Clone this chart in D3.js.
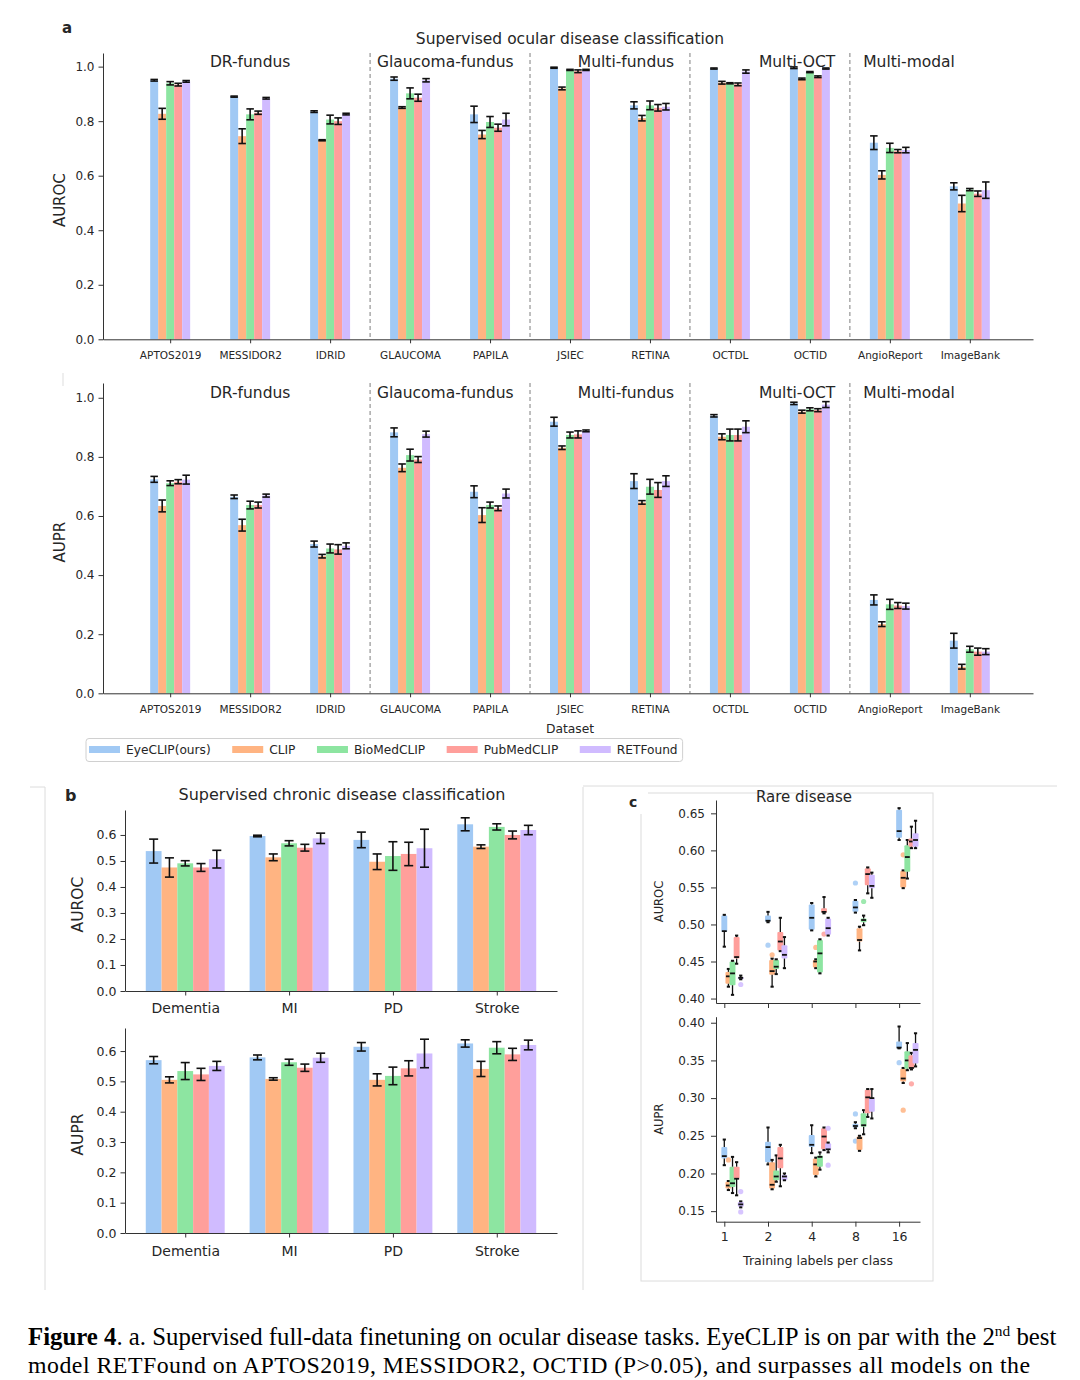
<!DOCTYPE html>
<html><head><meta charset="utf-8">
<script src="https://cdn.jsdelivr.net/npm/d3@7"></script>
<style>
body{margin:0;background:#fff}
svg{display:block}
text{font-family:"DejaVu Sans",sans-serif;fill:#262626}
.cap text, text.cap{font-family:"Liberation Serif","Times New Roman",serif;fill:#000}
</style>
</head><body>
<svg id="chart" width="1080" height="1380"></svg>
<script>
// ---------------- data ----------------
const models = ["EyeCLIP(ours)","CLIP","BioMedCLIP","PubMedCLIP","RETFound"];
const palette = ["#a1c9f4","#ffb482","#8de5a1","#ff9f9b","#d0bbff"];

const datasets = ["APTOS2019","MESSIDOR2","IDRID","GLAUCOMA","PAPILA","JSIEC","RETINA","OCTDL","OCTID","AngioReport","ImageBank"];
const groupNames = ["DR-fundus","Glaucoma-fundus","Multi-fundus","Multi-OCT","Multi-modal"];
const groupFirstIndex = [0,3,5,7,9];
const groupLabelAt = [1.0,3.44,5.7,7.84,9.24];
const ocularTicks = [0,0.2,0.4,0.6,0.8,1.0];

const ocularAuroc = [
  [0.950,0.827,0.939,0.934,0.946],
  [0.890,0.745,0.825,0.831,0.884],
  [0.835,0.730,0.806,0.800,0.826],
  [0.956,0.850,0.902,0.886,0.950],
  [0.825,0.751,0.797,0.776,0.806],
  [0.996,0.920,0.988,0.983,0.988],
  [0.858,0.811,0.858,0.849,0.853],
  [0.993,0.941,0.939,0.935,0.982],
  [0.996,0.955,0.980,0.963,0.993],
  [0.721,0.603,0.702,0.690,0.694],
  [0.561,0.498,0.549,0.534,0.547]
];
const ocularAurocErr = [
  [0.003,0.020,0.006,0.005,0.003],
  [0.002,0.027,0.020,0.006,0.003],
  [0.003,0.002,0.016,0.012,0.003],
  [0.006,0.003,0.020,0.013,0.006],
  [0.030,0.015,0.020,0.013,0.023],
  [0.002,0.005,0.002,0.005,0.002],
  [0.013,0.010,0.016,0.012,0.012],
  [0.002,0.005,0.002,0.005,0.006],
  [0.003,0.003,0.002,0.003,0.002],
  [0.025,0.015,0.017,0.006,0.010],
  [0.013,0.030,0.004,0.010,0.030]
];
const ocularAupr = [
  [0.724,0.634,0.711,0.716,0.723],
  [0.665,0.569,0.637,0.637,0.669],
  [0.505,0.464,0.490,0.487,0.499],
  [0.883,0.763,0.806,0.791,0.877],
  [0.682,0.603,0.637,0.626,0.676],
  [0.919,0.831,0.874,0.876,0.888],
  [0.718,0.646,0.699,0.688,0.718],
  [0.939,0.868,0.874,0.874,0.902],
  [0.981,0.953,0.961,0.958,0.977],
  [0.316,0.234,0.301,0.297,0.295],
  [0.178,0.090,0.149,0.141,0.141]
];
const ocularAuprErr = [
  [0.010,0.020,0.008,0.007,0.015],
  [0.006,0.020,0.013,0.010,0.005],
  [0.010,0.006,0.015,0.016,0.010],
  [0.015,0.013,0.020,0.010,0.010],
  [0.020,0.025,0.010,0.008,0.015],
  [0.015,0.006,0.010,0.012,0.003],
  [0.025,0.006,0.025,0.025,0.018],
  [0.004,0.010,0.020,0.020,0.020],
  [0.004,0.005,0.005,0.005,0.010],
  [0.017,0.008,0.017,0.010,0.010],
  [0.025,0.008,0.010,0.012,0.010]
];

const chronic = ["Dementia","MI","PD","Stroke"];
const chronicTicks = [0,0.1,0.2,0.3,0.4,0.5,0.6];
const chronicAuroc = [
  [0.538,0.475,0.491,0.475,0.507],
  [0.596,0.514,0.568,0.551,0.587],
  [0.581,0.497,0.519,0.527,0.549],
  [0.641,0.555,0.631,0.600,0.619]
];
const chronicAurocErr = [
  [0.046,0.037,0.010,0.015,0.034],
  [0.003,0.013,0.010,0.013,0.020],
  [0.030,0.030,0.055,0.045,0.073],
  [0.025,0.007,0.012,0.015,0.018]
];
const chronicAupr = [
  [0.570,0.505,0.534,0.523,0.551],
  [0.579,0.508,0.563,0.545,0.578],
  [0.614,0.505,0.518,0.543,0.592],
  [0.625,0.541,0.611,0.589,0.620]
];
const chronicAuprErr = [
  [0.012,0.010,0.028,0.020,0.015],
  [0.008,0.004,0.010,0.012,0.015],
  [0.014,0.020,0.029,0.025,0.047],
  [0.012,0.025,0.020,0.020,0.016]
];

const rareShots = ["1","2","4","8","16"];
const rareAurocTicks = [0.40,0.45,0.50,0.55,0.60,0.65];
const rareAuprTicks = [0.15,0.20,0.25,0.30,0.35,0.40];
// [whisker low, q1, median, q3, whisker high] per model, per shot
const rareAurocBox = [
  [[0.470,0.490,0.491,0.512,0.513],[0.503,0.504,0.505,0.512,0.517],[0.492,0.493,0.509,0.527,0.529],[0.516,0.517,0.523,0.532,0.533],[0.614,0.617,0.626,0.655,0.657]],
  [[0.416,0.420,0.430,0.436,0.440],[0.416,0.432,0.437,0.452,0.454],[0.441,0.442,0.450,0.452,0.453],[0.465,0.477,0.479,0.495,0.497],[0.549,0.550,0.563,0.572,0.573]],
  [[0.405,0.418,0.434,0.450,0.451],[0.433,0.440,0.443,0.452,0.453],[0.434,0.435,0.461,0.479,0.480],[0.499,0.503,0.506,0.508,0.512],[0.562,0.571,0.591,0.607,0.614]],
  [[0.447,0.454,0.456,0.483,0.485],[0.464,0.465,0.477,0.490,0.509],[0.515,0.516,0.517,0.522,0.537],[0.542,0.553,0.568,0.576,0.577],[0.603,0.605,0.612,0.616,0.632]],
  [[0.426,0.426,0.428,0.429,0.431],[0.441,0.454,0.459,0.472,0.483],[0.485,0.486,0.495,0.508,0.509],[0.536,0.549,0.552,0.567,0.570],[0.603,0.605,0.614,0.623,0.640]]
];
const rareAurocOutliers = [
  [[],[0.472],[],[0.556],[]],
  [[],[0.459],[0.469],[],[0.594]],
  [[],[],[],[0.531],[]],
  [[],[],[0.487],[],[]],
  [[0.419],[],[],[],[]]
];
const rareAuprBox = [
  [[0.211,0.220,0.223,0.235,0.245],[0.212,0.215,0.235,0.242,0.261],[0.227,0.235,0.238,0.251,0.264],[0.260,0.261,0.263,0.266,0.268],[0.366,0.366,0.367,0.375,0.395]],
  [[0.178,0.180,0.184,0.189,0.190],[0.179,0.180,0.185,0.215,0.218],[0.196,0.198,0.212,0.220,0.221],[0.230,0.231,0.247,0.249,0.250],[0.320,0.322,0.326,0.339,0.340]],
  [[0.174,0.182,0.187,0.209,0.222],[0.189,0.191,0.196,0.204,0.224],[0.205,0.209,0.222,0.224,0.228],[0.252,0.262,0.264,0.280,0.284],[0.337,0.339,0.350,0.362,0.373]],
  [[0.171,0.193,0.193,0.209,0.215],[0.183,0.207,0.220,0.235,0.238],[0.231,0.232,0.249,0.260,0.261],[0.275,0.280,0.301,0.311,0.312],[0.338,0.339,0.340,0.357,0.360]],
  [[0.155,0.156,0.159,0.162,0.163],[0.191,0.191,0.196,0.198,0.200],[0.228,0.231,0.232,0.240,0.241],[0.273,0.282,0.300,0.300,0.312],[0.342,0.346,0.364,0.373,0.386]]
];
const rareAuprOutliers = [
  [[],[],[],[0.279,0.243],[0.347]],
  [[0.218],[],[],[],[0.284]],
  [[],[],[],[],[]],
  [[],[],[],[],[0.319]],
  [[0.176,0.149],[],[0.260,0.211],[],[]]
];

const captionLine1 = ["Figure 4", ". a. Supervised full-data finetuning on ocular disease tasks. EyeCLIP is on par with the 2", "nd", " best"];
const captionLine2 = "model RETFound on APTOS2019, MESSIDOR2, OCTID (P>0.05), and surpasses all models on the";

// ---------------- drawing ----------------
const svg = d3.select("#chart");
const INK = "#262626", SPINE = "#333";

function styleAxis(g, fs) {
  g.select(".domain").attr("stroke", SPINE).attr("stroke-width", 1);
  g.selectAll(".tick line").attr("stroke", SPINE).attr("stroke-width", 1);
  g.selectAll(".tick text").attr("fill", INK).style("font-size", fs + "px")
    .style("font-family", '"DejaVu Sans",sans-serif');
}
function errBar(g, cx, y, v, e, capW, sw) {
  const gg = g.append("g").attr("stroke", "#111").attr("stroke-width", sw);
  gg.append("line").attr("x1", cx).attr("x2", cx).attr("y1", y(v - e)).attr("y2", y(v + e));
  gg.append("line").attr("x1", cx - capW/2).attr("x2", cx + capW/2).attr("y1", y(v - e)).attr("y2", y(v - e));
  gg.append("line").attr("x1", cx - capW/2).attr("x2", cx + capW/2).attr("y1", y(v + e)).attr("y2", y(v + e));
}

// ---- panel a ----
const xA = d3.scaleLinear().domain([-0.84, 10.79]).range([103, 1033]);
const barWA = 0.1;
function drawOcular(y, means, errs, yLabel, groupY, tickLabelOffset) {
  const g = svg.append("g");
  groupFirstIndex.slice(1).forEach(i => {
    g.append("line").attr("x1", xA(i - 0.5)).attr("x2", xA(i - 0.5))
      .attr("y1", y.range()[1]).attr("y2", y.range()[0])
      .attr("stroke", "#8a8a8a").attr("stroke-width", 1.1).attr("stroke-dasharray", "4,3");
  });
  datasets.forEach((d, i) => {
    models.forEach((m, j) => {
      const cx = xA(i + (j - 2) * barWA);
      const w = xA(barWA) - xA(0);
      g.append("rect").attr("x", cx - w/2).attr("width", w)
        .attr("y", y(means[i][j])).attr("height", y(0) - y(means[i][j]))
        .attr("fill", palette[j]);
    });
  });
  datasets.forEach((d, i) => {
    models.forEach((m, j) => {
      errBar(g, xA(i + (j - 2) * barWA), y, means[i][j], errs[i][j], 7.5, 1.6);
    });
  });
  const ax = g.append("g").attr("transform", `translate(0,${y(0)})`)
    .call(d3.axisBottom(xA).tickValues(d3.range(datasets.length)).tickFormat(i => datasets[i])
      .tickSize(4).tickSizeOuter(0).tickPadding(tickLabelOffset));
  styleAxis(ax, 10.5);
  const ay = g.append("g").attr("transform", `translate(${xA.range()[0]},0)`)
    .call(d3.axisLeft(y).tickValues(ocularTicks).tickFormat(d3.format(".1f")).tickSize(4.5).tickSizeOuter(0).tickPadding(4));
  styleAxis(ay, 12);
  g.append("text").attr("transform", `translate(65,${(y(0) + y(1.05)) / 2 + 4}) rotate(-90)`)
    .attr("text-anchor", "middle").style("font-size", "15px").text(yLabel);
  groupNames.forEach((n, k) => {
    g.append("text").attr("x", xA(groupLabelAt[k])).attr("y", groupY)
      .attr("text-anchor", "middle").style("font-size", "15.5px").text(n);
  });
  return g;
}
const yA1 = d3.scaleLinear().domain([0, 1.05]).range([339.3, 53]);
const yA2 = d3.scaleLinear().domain([0, 1.05]).range([693.3, 383]);
drawOcular(yA1, ocularAuroc, ocularAurocErr, "AUROC", 67, 8);
drawOcular(yA2, ocularAupr, ocularAuprErr, "AUPR", 398, 8);

svg.append("text").attr("x", 570).attr("y", 44).attr("text-anchor", "middle")
  .style("font-size", "15.5px").text("Supervised ocular disease classification");
svg.append("text").attr("x", 62).attr("y", 33).style("font-size", "15px").style("font-weight", "bold").attr("fill", "#000").text("a");
svg.append("text").attr("x", 570).attr("y", 733).attr("text-anchor", "middle").style("font-size", "12.3px").text("Dataset");
svg.append("line").attr("x1", 63).attr("x2", 63).attr("y1", 373).attr("y2", 386).attr("stroke", "#ddd");

// legend
{
  const lg = svg.append("g");
  const box = lg.append("rect").attr("x", 86).attr("y", 738.5).attr("height", 23).attr("rx", 3)
    .attr("fill", "#fff").attr("stroke", "#d0d0d0").attr("stroke-width", 1);
  let x = 89;
  models.forEach((m, j) => {
    lg.append("rect").attr("x", x).attr("y", 746).attr("width", 31).attr("height", 7).attr("fill", palette[j]);
    const t = lg.append("text").attr("x", x + 37).attr("y", 754).style("font-size", "12.2px").text(m);
    const w = t.node().getComputedTextLength();
    x = x + 37 + w + 21.5;
  });
  box.attr("width", x - 21.5 + 5 - 86);
}

// ---- panel b ----
const xB = d3.scaleLinear().domain([-0.58, 3.58]).range([125, 557]);
const barWB = 0.152;
function drawChronic(y, means, errs, yLabel, labelPad) {
  const g = svg.append("g");
  chronic.forEach((c, i) => {
    models.forEach((m, j) => {
      const cx = xB(i + (j - 2) * barWB);
      const w = xB(barWB) - xB(0);
      g.append("rect").attr("x", cx - w/2).attr("width", w)
        .attr("y", y(means[i][j])).attr("height", y(0) - y(means[i][j])).attr("fill", palette[j]);
    });
  });
  chronic.forEach((c, i) => {
    models.forEach((m, j) => errBar(g, xB(i + (j - 2) * barWB), y, means[i][j], errs[i][j], 9, 1.6));
  });
  const ax = g.append("g").attr("transform", `translate(0,${y(0)})`)
    .call(d3.axisBottom(xB).tickValues(d3.range(chronic.length)).tickFormat(i => chronic[i])
      .tickSize(4.5).tickSizeOuter(0).tickPadding(labelPad));
  styleAxis(ax, 14);
  const ay = g.append("g").attr("transform", `translate(${xB.range()[0]},0)`)
    .call(d3.axisLeft(y).tickValues(chronicTicks).tickFormat(d3.format(".1f")).tickSize(4.5).tickSizeOuter(0).tickPadding(4));
  styleAxis(ay, 12.5);
  g.append("text").attr("transform", `translate(83,${(y(0) + y.range()[1]) / 2 + 4}) rotate(-90)`)
    .attr("text-anchor", "middle").style("font-size", "15.5px").text(yLabel);
}
const yB1 = d3.scaleLinear().domain([0, 0.696]).range([991, 810]);
const yB2 = d3.scaleLinear().domain([0, 0.676]).range([1233, 1028]);
drawChronic(yB1, chronicAuroc, chronicAurocErr, "AUROC", 8);
drawChronic(yB2, chronicAupr, chronicAuprErr, "AUPR", 9);
svg.append("text").attr("x", 342).attr("y", 800).attr("text-anchor", "middle").style("font-size", "16px")
  .text("Supervised chronic disease classification");
svg.append("text").attr("x", 65).attr("y", 801).style("font-size", "16px").style("font-weight", "bold").attr("fill", "#000").text("b");

// frames
const frame = svg.append("g").attr("stroke", "#dcdcdc").attr("stroke-width", 1).attr("fill", "none");
frame.append("line").attr("x1", 30).attr("x2", 45).attr("y1", 787).attr("y2", 787);
frame.append("line").attr("x1", 45).attr("x2", 45).attr("y1", 787).attr("y2", 1290);
frame.append("line").attr("x1", 583).attr("x2", 583).attr("y1", 787).attr("y2", 1290);
frame.append("line").attr("x1", 583).attr("x2", 1057).attr("y1", 786).attr("y2", 786);
frame.append("rect").attr("x", 641).attr("y", 793).attr("width", 292).attr("height", 488);
svg.append("rect").attr("x", 620).attr("y", 788).attr("width", 28).attr("height", 26).attr("fill", "#fff");
svg.append("text").attr("x", 629).attr("y", 807).style("font-size", "14px").style("font-weight", "bold").attr("fill", "#000").text("c");

// ---- panel c ----
const xC = d3.scaleLinear().domain([-0.19, 4.478]).range([716, 920]);
const boxStep = 0.094, boxW = 0.135;
function drawRare(y, boxes, outliers, ticks, yLabel, showLabels) {
  const g = svg.append("g");
  models.forEach((m, j) => {
    rareShots.forEach((s, i) => {
      const [lo, q1, md, q3, hi] = boxes[j][i];
      const cx = xC(i + j * boxStep);
      const w = xC(boxW) - xC(0);
      g.append("rect").attr("x", cx - w/2).attr("width", w).attr("y", y(q3)).attr("height", Math.max(1.5, y(q1) - y(q3)))
        .attr("fill", palette[j]).attr("rx", 1);
      const k = g.append("g").attr("stroke", "#111").attr("stroke-width", 1.3);
      k.append("line").attr("x1", cx).attr("x2", cx).attr("y1", y(hi)).attr("y2", y(q3));
      k.append("line").attr("x1", cx).attr("x2", cx).attr("y1", y(q1)).attr("y2", y(lo));
      k.append("line").attr("x1", cx - 1.6).attr("x2", cx + 1.6).attr("y1", y(hi)).attr("y2", y(hi)).attr("stroke-width", 2);
      k.append("line").attr("x1", cx - 1.6).attr("x2", cx + 1.6).attr("y1", y(lo)).attr("y2", y(lo)).attr("stroke-width", 2);
      k.append("line").attr("x1", cx - w/2 + 0.5).attr("x2", cx + w/2 - 0.5).attr("y1", y(md)).attr("y2", y(md)).attr("stroke-width", 1.8);
      outliers[j][i].forEach(v => {
        g.append("circle").attr("cx", cx).attr("cy", y(v)).attr("r", 2.6).attr("fill", palette[j]).attr("opacity", 0.85);
      });
    });
  });
  const ax = g.append("g").attr("transform", `translate(0,${y.range()[0]})`)
    .call(d3.axisBottom(xC).tickValues(d3.range(rareShots.length)).tickFormat(i => showLabels ? rareShots[i] : "")
      .tickSize(5).tickSizeOuter(0).tickPadding(5));
  styleAxis(ax, 12.5);
  const ay = g.append("g").attr("transform", `translate(${xC.range()[0]},0)`)
    .call(d3.axisLeft(y).tickValues(ticks).tickFormat(d3.format(".2f")).tickSize(5).tickSizeOuter(0).tickPadding(6));
  styleAxis(ay, 12);
  g.append("text").attr("transform", `translate(663,${(y.range()[0] + y.range()[1]) / 2}) rotate(-90)`)
    .attr("text-anchor", "middle").style("font-size", "11.5px").text(yLabel);
}
const yC1 = d3.scaleLinear().domain([0.394, 0.668]).range([1003, 800]);
const yC2 = d3.scaleLinear().domain([0.136, 0.408]).range([1221.7, 1016.7]);
drawRare(yC1, rareAurocBox, rareAurocOutliers, rareAurocTicks, "AUROC", false);
drawRare(yC2, rareAuprBox, rareAuprOutliers, rareAuprTicks, "AUPR", true);
svg.append("text").attr("x", 804).attr("y", 802).attr("text-anchor", "middle").style("font-size", "15px").text("Rare disease");
svg.append("text").attr("x", 818).attr("y", 1265).attr("text-anchor", "middle").style("font-size", "12.5px").text("Training labels per class");

// ---- caption ----
{
  const fs = 23;
  const t1 = svg.append("text").attr("class", "cap").attr("x", 28).attr("y", 1345).style("font-size", fs + "px");
  t1.append("tspan").style("font-weight", "bold").text(captionLine1[0]);
  t1.append("tspan").text(captionLine1[1]);
  t1.append("tspan").attr("dy", -9).style("font-size", (fs * 0.62) + "px").text(captionLine1[2]);
  t1.append("tspan").attr("dy", 9).text(captionLine1[3]);
  const w1 = t1.node().getComputedTextLength();
  const f1 = fs * 1029 / w1;
  t1.style("font-size", f1 + "px");
  t1.selectAll("tspan").filter((d, i) => i === 2).style("font-size", (f1 * 0.62) + "px");
  const t2 = svg.append("text").attr("class", "cap").attr("x", 28).attr("y", 1373).style("font-size", (f1 * 0.96) + "px").text(captionLine2);
  t2.attr("textLength", 1002).attr("lengthAdjust", "spacing");
}
</script>
</body></html>
